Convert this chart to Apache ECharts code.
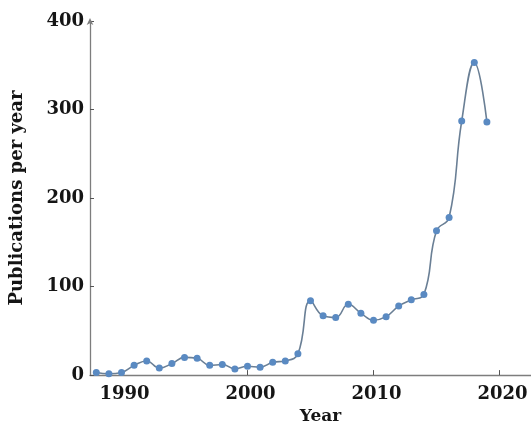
<!DOCTYPE html>
<html>
<head>
<meta charset="utf-8">
<script src="https://cdn.jsdelivr.net/npm/echarts@6/dist/echarts.min.js"></script>
<style>
  html, body { margin: 0; padding: 0; background: #fff; }
  #chart { width: 531px; height: 430px; }
</style>
</head>
<body>
<div id="chart"></div>
<script>
// Publications per year, 1988-2019
const years = [1988, 1989, 1990, 1991, 1992, 1993, 1994, 1995, 1996, 1997,
               1998, 1999, 2000, 2001, 2002, 2003, 2004, 2005, 2006, 2007,
               2008, 2009, 2010, 2011, 2012, 2013, 2014, 2015, 2016, 2017,
               2018, 2019];
const publications = [3, 1.5, 3, 11, 16, 8, 13, 20, 19, 11,
                      12, 7, 10, 9, 14.5, 16, 24, 84, 67, 65,
                      80, 70, 62, 66, 78, 85, 91, 163, 178, 287,
                      353, 286];
const xTicks = [1990, 2000, 2010, 2020];

const fontFamily = '"DejaVu Serif", serif';
const axisColor = '#7d7d7d';
const textColor = '#151515';

const chart = echarts.init(document.getElementById('chart'), null, { renderer: 'canvas' });
chart.setOption({
  animation: false,
  backgroundColor: '#ffffff',
  grid: { left: 86, right: 0, top: 21, bottom: 52, containLabel: false },
  xAxis: {
    type: 'value',
    min: 1987.5,
    max: 2022.5,
    name: 'Year',
    nameLocation: 'middle',
    nameGap: 32,
    nameTextStyle: { color: textColor, fontFamily, fontWeight: 'bold', fontSize: 17, padding: [0, 0, 0, 20] },
    axisLine: { show: true, lineStyle: { color: axisColor, width: 1.3 } },
    axisTick: { show: true, inside: true, length: 5, customValues: xTicks, lineStyle: { color: '#555', width: 1 } },
    axisLabel: {
      customValues: xTicks,
      color: textColor, fontFamily, fontWeight: 'bold', fontSize: 18, margin: 10,
      padding: [0, 0, 0, 6],
      formatter: v => String(v)
    },
    splitLine: { show: false }
  },
  yAxis: {
    type: 'value',
    min: 0,
    max: 400,
    interval: 100,
    name: 'Publications per year',
    nameLocation: 'middle',
    nameGap: 64,
    nameRotate: 90,
    nameTextStyle: { color: textColor, fontFamily, fontWeight: 'bold', fontSize: 18 },
    axisLine: { show: true, lineStyle: { color: axisColor, width: 1.3 }, symbol: ['none', 'arrow'], symbolSize: [5, 7], symbolOffset: [0, 3] },
    axisTick: { show: true, inside: true, length: 4, lineStyle: { color: '#555', width: 1 } },
    axisLabel: { color: textColor, fontFamily, fontWeight: 'bold', fontSize: 18, margin: 6 },
    splitLine: { show: false }
  },
  series: [{
    type: 'line',
    data: years.map((y, i) => [y, publications[i]]),
    smooth: 0.45,
    symbol: 'circle',
    symbolSize: 7,
    lineStyle: { color: '#6a7f95', width: 1.6 },
    itemStyle: { color: '#5a8ac2' },
    clip: false
  }]
});
</script>
</body>
</html>
